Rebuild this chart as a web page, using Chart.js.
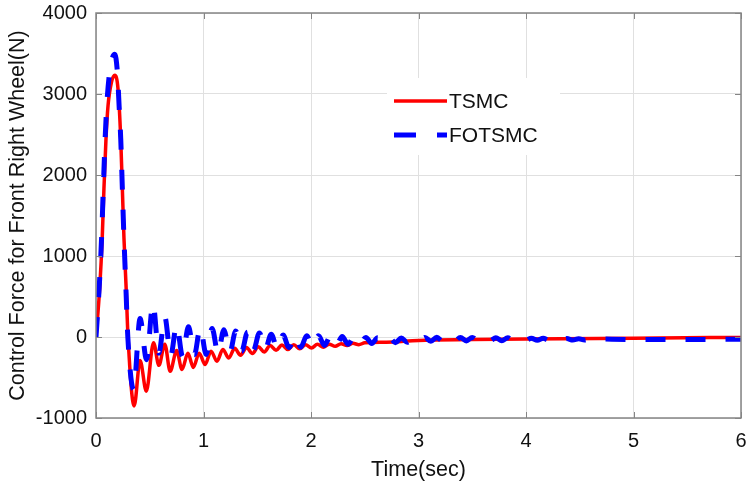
<!DOCTYPE html>
<html>
<head>
<meta charset="utf-8">
<script src="https://cdn.jsdelivr.net/npm/chart.js@4.4.1/dist/chart.umd.min.js"></script>
<style>
  html, body { margin: 0; padding: 0; background: #fff; }
  #wrap { width: 746px; height: 488px; }
</style>
</head>
<body>
<div id="wrap"><canvas id="chart" width="746" height="488"></canvas></div>
<script>
// values
const tsmcTime = [0, 0.035, 0.058, 0.074, 0.093, 0.112, 0.143, 0.175, 0.205, 0.23, 0.245, 0.26, 0.28, 0.298,
  0.355, 0.41, 0.468, 0.535, 0.585, 0.64, 0.69, 0.75, 0.80, 0.855, 0.905,
  0.96, 1.015, 1.07, 1.125, 1.18, 1.235, 1.29, 1.345, 1.40, 1.455, 1.51, 1.565, 1.62, 1.675,
  1.73, 1.785, 1.84, 1.895, 1.95, 2.005, 2.06, 2.115, 2.17, 2.225, 2.28, 2.335, 2.39, 2.445, 2.5,
  2.7, 3.0, 3.5, 4.0, 5.0, 6.0];
const tsmcForce = [0, 615, 1226, 1837, 2449, 2856, 3142, 3231, 3060, 2449, 1837, 1226, 615, 0,
  -852, -290, -669, -70, -350, -88, -424, -168, -400, -200, -375,
  -200, -340, -175, -300, -155, -260, -140, -225, -130, -205, -120, -185, -105, -165,
  -98, -155, -95, -145, -95, -135, -90, -125, -88, -115, -82, -105, -78, -95, -72,
  -65, -42, -32, -25, -14, -5];

const fotsmcTime = [0, 0.03, 0.052, 0.068, 0.085, 0.102, 0.13, 0.175, 0.2, 0.215, 0.23, 0.245, 0.26, 0.278, 0.296,
  0.35, 0.41, 0.47, 0.53, 0.585, 0.64, 0.695, 0.75, 0.805, 0.86, 0.915,
  0.97, 1.025, 1.08, 1.135, 1.19, 1.245, 1.30, 1.355, 1.41, 1.465,
  1.52, 1.575, 1.63, 1.685, 1.74, 1.795, 1.85, 1.905, 1.96, 2.015,
  2.07, 2.125, 2.18, 2.235, 2.29, 2.345, 2.40, 2.455, 2.51, 2.565,
  2.62, 2.675, 2.73, 2.785, 2.84, 2.895, 2.95, 3.005, 3.06, 3.115,
  3.17, 3.225, 3.28, 3.335, 3.39, 3.445, 3.5, 3.555, 3.61, 3.665,
  3.72, 3.775, 3.83, 3.885, 3.94, 3.995, 4.05, 4.105, 4.16, 4.215,
  4.27, 4.325, 4.38, 4.435, 4.49, 4.545, 4.6, 5.0, 5.5, 6.0];
const fotsmcForce = [0, 615, 1226, 1837, 2449, 2900, 3300, 3490, 3250, 2850, 2449, 1837, 1226, 615, 0,
  -650, 227, -280, 411, -200, 248, -230, 150, -240, 126, -220,
  115, -215, 105, -200, 90, -190, 75, -175, 60, -160,
  50, -150, 35, -140, 25, -130, 20, -125, 15, -115,
  15, -105, 10, -100, 5, -90, 0, -85, -5, -80,
  -8, -75, -10, -70, -12, -65, -12, -55, -5, -53,
  -4, -52, -4, -50, -5, -48, -6, -47, -7, -46,
  -8, -45, -10, -44, -12, -42, -14, -41, -16, -40,
  -18, -39, -20, -38, -22, -37, -24, -30, -30, -28];

const xTicks = [0, 1, 2, 3, 4, 5, 6];
const yTicks = [-1000, 0, 1000, 2000, 3000, 4000];
const seriesNames = ["TSMC", "FOTSMC"];

const FONT = "'Liberation Sans', Arial, sans-serif";
const boxColor = "#858585";

function toPoints(xs, ys) {
  return xs.map((x, i) => ({ x: x, y: ys[i] }));
}

// box round the axes, inside ticks and the legend
const matlabAxes = {
  id: "matlabAxes",
  afterDraw(chart) {
    const { ctx, chartArea: a, scales } = chart;
    ctx.save();
    ctx.strokeStyle = boxColor;
    ctx.lineWidth = 1.5;
    ctx.strokeRect(a.left, a.top, a.right - a.left, a.bottom - a.top);
    ctx.lineWidth = 1;
    ctx.beginPath();
    xTicks.forEach((t) => {
      const px = Math.round(scales.x.getPixelForValue(t)) + 0.5;
      ctx.moveTo(px, a.bottom); ctx.lineTo(px, a.bottom - 6);
      ctx.moveTo(px, a.top); ctx.lineTo(px, a.top + 6);
    });
    yTicks.forEach((t) => {
      const py = Math.round(scales.y.getPixelForValue(t)) + 0.5;
      ctx.moveTo(a.left, py); ctx.lineTo(a.left + 6, py);
      ctx.moveTo(a.right, py); ctx.lineTo(a.right - 6, py);
    });
    ctx.stroke();

    // legend
    const boxLeft = a.left + 291;
    const boxTop = a.top + 65;
    const lx = boxLeft + 7;
    const legendDash = [[], [22, 21]];
    ctx.fillStyle = "#fff";
    ctx.fillRect(boxLeft, boxTop, 173, 77);
    ctx.font = "21px " + FONT;
    ctx.textBaseline = "middle";
    ctx.fillStyle = "#111";
    const ds = chart.data.datasets;
    [0, 1].forEach((i) => {
      const y = boxTop + 23 + i * 34;
      ctx.strokeStyle = ds[i].borderColor;
      ctx.lineWidth = ds[i].borderWidth;
      ctx.setLineDash(legendDash[i]);
      ctx.beginPath();
      ctx.moveTo(lx, y);
      ctx.lineTo(lx + 53, y);
      ctx.stroke();
      ctx.setLineDash([]);
      ctx.fillText(seriesNames[i], lx + 55, y + 1);
    });
    ctx.restore();
  },
};

new Chart(document.getElementById("chart"), {
  type: "line",
  data: {
    datasets: [
      {
        label: seriesNames[0],
        data: toPoints(tsmcTime, tsmcForce),
        borderColor: "#ff0000",
        borderWidth: 3.5,
        pointRadius: 0,
        cubicInterpolationMode: "monotone",
        order: 2,
      },
      {
        label: seriesNames[1],
        data: toPoints(fotsmcTime, fotsmcForce),
        borderColor: "#0000ff",
        borderWidth: 5,
        borderDash: [20, 20],
        pointRadius: 0,
        cubicInterpolationMode: "monotone",
        order: 1,
      },
    ],
  },
  options: {
    responsive: false,
    animation: false,
    layout: { padding: { top: 13, right: 5, left: 0, bottom: 0 } },
    plugins: { legend: { display: false }, tooltip: { enabled: false } },
    scales: {
      x: {
        type: "linear",
        min: 0,
        max: 6,
        afterBuildTicks: (s) => { s.ticks = xTicks.map((v) => ({ value: v })); },
        afterFit: (s) => { s.height = 70; s.paddingLeft = 0; s.paddingRight = 0; },
        grid: { color: "#e0e0e0", drawTicks: false },
        border: { display: false },
        ticks: { padding: 11, color: "#111", font: { family: FONT, size: 20 }, maxRotation: 0, callback: (v) => String(v) },
        title: { display: true, text: "Time(sec)", color: "#111", font: { family: FONT, size: 21.5 }, padding: { top: 5, bottom: 5 } },
      },
      y: {
        type: "linear",
        min: -1000,
        max: 4000,
        afterBuildTicks: (s) => { s.ticks = yTicks.map((v) => ({ value: v })); },
        afterFit: (s) => { s.width = 96; s.paddingTop = 0; s.paddingBottom = 0; },
        grid: { color: "#e0e0e0", drawTicks: false },
        border: { display: false },
        ticks: { padding: 9, color: "#111", font: { family: FONT, size: 20 }, callback: (v) => String(v) },
        title: { display: true, text: "Control Force for Front Right Wheel(N)", color: "#111", font: { family: FONT, size: 21.5 }, padding: { top: 5, bottom: 5 } },
      },
    },
  },
  plugins: [matlabAxes],
});
</script>
</body>
</html>
